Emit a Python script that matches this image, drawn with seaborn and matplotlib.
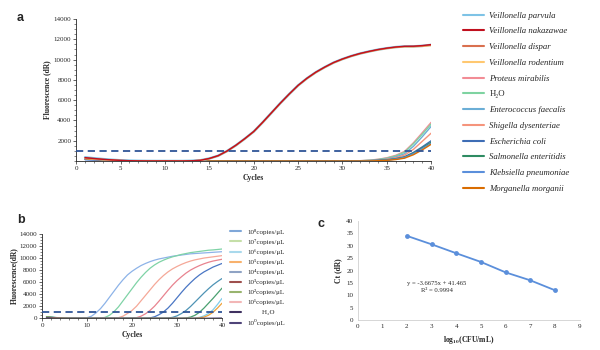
import matplotlib

matplotlib.use("Agg")
import matplotlib.pyplot as plt
import seaborn as sns
from matplotlib.lines import Line2D
from matplotlib.ticker import AutoMinorLocator, MultipleLocator

# ---------------- data ----------------
CYCLES = list(range(1, 41))
THRESHOLD = 1000

# panel a: specificity, fluorescence per cycle
v_parvula = [360, 270, 190, 120, 70, 35, 15, 5, 0, 0, 0, 0, 20, 70, 250, 520, 980, 1550, 2200, 2900,
             3800, 4750, 5700, 6600, 7450, 8150, 8750, 9250, 9700, 10050, 10350, 10600, 10800, 10980, 11120, 11230, 11300, 11300, 11350, 11450]
v_nakazawae = [330, 250, 170, 110, 60, 30, 10, 0, 0, 0, 0, 0, 20, 70, 250, 530, 990, 1560, 2210, 2910,
               3810, 4760, 5710, 6610, 7460, 8160, 8760, 9260, 9710, 10060, 10360, 10610, 10810, 10990, 11130, 11240, 11310, 11320, 11380, 11480]
v_dispar = [300, 220, 150, 90, 50, 20, 5, 0, 0, 0, 0, 0, 20, 70, 240, 510, 970, 1540, 2190, 2890,
            3790, 4740, 5690, 6590, 7440, 8140, 8740, 9240, 9690, 10040, 10340, 10590, 10790, 10970, 11110, 11220, 11290, 11290, 11340, 11430]
v_rodentium = [260, 200, 140, 80, 40, 15, 0, 0, 0, 0, 0, 0, 15, 60, 230, 500, 960, 1530, 2180, 2880,
               3780, 4730, 5680, 6580, 7430, 8120, 8720, 9220, 9670, 10020, 10320, 10570, 10770, 10950, 11080, 11190, 11260, 11260, 11300, 11380]
proteus = [310, 230, 160, 100, 55, 25, 10, 0, 0, 0, 0, 0, 0, 0, 0, 0, 0, 0, 0, 0,
           0, 0, 0, 0, 0, 0, 0, 0, 0, 0, 10, 30, 80, 170, 320, 560, 950, 1800, 2800, 3820]
water_a = [240, 180, 120, 80, 40, 20, 5, 0, 0, 0, 0, 0, 0, 0, 0, 0, 0, 0, 0, 0,
           0, 0, 0, 0, 0, 0, 0, 0, 0, 0, 10, 25, 70, 150, 280, 500, 870, 1700, 2650, 3650]
enterococcus = [200, 150, 100, 60, 30, 10, 0, 0, 0, 0, 0, 0, 0, 0, 0, 0, 0, 0, 0, 0,
                0, 0, 0, 0, 0, 0, 0, 0, 0, 0, 0, 20, 50, 110, 210, 400, 720, 1450, 2400, 3420]
shigella = [180, 130, 90, 50, 25, 10, 0, 0, 0, 0, 0, 0, 0, 0, 0, 0, 0, 0, 0, 0,
            0, 0, 0, 0, 0, 0, 0, 0, 0, 0, 0, 15, 40, 90, 170, 320, 580, 1150, 1950, 2750]
ecoli = [150, 110, 70, 40, 20, 5, 0, 0, 0, 0, 0, 0, 0, 0, 0, 0, 0, 0, 0, 0,
         0, 0, 0, 0, 0, 0, 0, 0, 0, 0, 0, 0, 25, 60, 120, 230, 420, 850, 1400, 2000]
salmonella = [270, 200, 130, 80, 40, 15, 0, 0, 0, 0, 0, 0, 0, 0, 0, 0, 0, 0, 0, 0,
              0, 0, 0, 0, 0, 0, 0, 0, 0, 0, 0, 0, 20, 50, 100, 200, 380, 780, 1300, 1850]
klebsiella = [130, 90, 60, 35, 15, 5, 0, 0, 0, 0, 0, 0, 0, 0, 0, 0, 0, 0, 0, 0,
              0, 0, 0, 0, 0, 0, 0, 0, 0, 0, 0, 0, 0, 40, 90, 180, 350, 720, 1220, 1750]
morganella = [220, 160, 110, 60, 30, 10, 0, 0, 0, 0, 0, 0, 0, 0, 0, 0, 0, 0, 0, 0,
              0, 0, 0, 0, 0, 0, 0, 0, 0, 0, 0, 0, 0, 30, 70, 140, 280, 620, 1100, 1650]

SPECIES = ["Veillonella parvula", "Veillonella nakazawae", "Veillonella dispar", "Veillonella rodentium",
           "Proteus mirabilis", "H₂O", "Enterococcus faecalis", "Shigella dysenteriae", "Escherichia coli",
           "Salmonella enteritidis", "Klebsiella pneumoniae", "Morganella morganii"]
SPECIES_VALUES = [v_parvula, v_nakazawae, v_dispar, v_rodentium, proteus, water_a, enterococcus,
                  shigella, ecoli, salmonella, klebsiella, morganella]
SPECIES_COLORS = ["#7EC3E6", "#C0101E", "#D9704F", "#FFC870", "#F28C95", "#7ED3A1", "#6BAED6",
                  "#F5947C", "#3E6DB5", "#2E8B62", "#5B8FDB", "#D96C00"]
SPECIES_ITALIC = [True, True, True, True, True, False, True, True, True, True, True, True]
SPECIES_Z = [4.0, 4.3, 4.2, 4.1, 3, 3, 3, 3, 3, 3, 3, 3]

# panel b: sensitivity, dilution series
d8 = [200, 150, 100, 60, 30, 10, 0, 0, 20, 100, 350, 900, 1600, 2500, 3500, 4500, 5500, 6400, 7200, 7800,
      8300, 8750, 9100, 9400, 9650, 9850, 10000, 10150, 10300, 10400, 10500, 10600, 10700, 10750, 10800, 10850, 10900, 10950, 11000, 11050]
d7 = [180, 130, 90, 50, 20, 5, 0, 0, 0, 0, 0, 0, 30, 150, 500, 1100, 1900, 2900, 3900, 4900,
      5900, 6800, 7600, 8300, 8850, 9300, 9650, 9950, 10200, 10400, 10600, 10750, 10900, 11000, 11100, 11200, 11300, 11350, 11420, 11500]
d6 = [160, 120, 80, 40, 20, 5, 0, 0, 0, 0, 0, 0, 0, 0, 0, 30, 100, 350, 800, 1300,
      2000, 2900, 3800, 4700, 5600, 6400, 7100, 7700, 8200, 8600, 8950, 9250, 9500, 9700, 9850, 10000, 10100, 10200, 10300, 10400]
d5 = [150, 110, 70, 40, 15, 0, 0, 0, 0, 0, 0, 0, 0, 0, 0, 0, 0, 0, 0, 30,
      100, 350, 750, 1300, 2000, 2850, 3750, 4650, 5500, 6250, 6900, 7500, 8000, 8400, 8750, 9050, 9300, 9500, 9650, 9800]
d4 = [140, 100, 60, 30, 10, 0, 0, 0, 0, 0, 0, 0, 0, 0, 0, 0, 0, 0, 0, 0,
      0, 0, 0, 60, 250, 600, 1050, 1700, 2500, 3400, 4300, 5150, 5900, 6600, 7200, 7700, 8100, 8500, 8800, 9100]
d3 = [250, 180, 120, 70, 30, 10, 0, 0, 0, 0, 0, 0, 0, 0, 0, 0, 0, 0, 0, 0,
      0, 0, 0, 0, 0, 0, 0, 50, 150, 400, 800, 1300, 1950, 2700, 3450, 4200, 4900, 5550, 6100, 6600]
d2 = [280, 200, 130, 80, 40, 10, 0, 0, 0, 0, 0, 0, 0, 0, 0, 0, 0, 0, 0, 0,
      0, 0, 0, 0, 0, 0, 0, 0, 0, 0, 0, 50, 200, 500, 1000, 1700, 2500, 3300, 4150, 5000]
d1 = [120, 90, 60, 30, 10, 0, 0, 0, 0, 0, 0, 0, 0, 0, 0, 0, 0, 0, 0, 0,
      0, 0, 0, 0, 0, 0, 0, 0, 0, 0, 0, 0, 0, 50, 150, 400, 800, 1400, 2300, 3300]
d_water = [170, 130, 80, 45, 20, 5, 0, 0, 0, 0, 0, 0, 0, 0, 0, 0, 0, 0, 0, 0,
           0, 0, 0, 0, 0, 0, 0, 0, 0, 0, 0, 0, 0, 0, 60, 200, 500, 1000, 1700, 2500]
d0 = [100, 70, 40, 20, 5, 0, 0, 0, 0, 0, 0, 0, 0, 0, 0, 0, 0, 0, 0, 0,
      0, 0, 0, 0, 0, 0, 0, 0, 0, 0, 0, 0, 0, 0, 0, 0, 10, 20, 30, 40]

DILUTION_VALUES = [d8, d7, d6, d5, d4, d3, d2, d1, d_water, d0]
DILUTION_CURVE_COLORS = ["#8DB3E8", "#7FD3A6", "#F5A898", "#E8838F", "#4A76C4", "#4E93B5",
                         "#4AA070", "#80CDEB", "#F0A23A", "#4B3F72"]
DILUTION_LABELS = ["10⁸copies/μL", "10⁷copies/μL", "10⁶copies/μL", "10⁵copies/μL",
                   "10⁴copies/μL", "10³copies/μL", "10²copies/μL", "10¹copies/μL",
                   "        H₂O", "10⁰copies/μL"]
DILUTION_LEGEND_COLORS = ["#7FA7D8", "#C5DFA8", "#A9D9EC", "#F8B16C", "#8FA3C4", "#9E4F4D",
                          "#98B46E", "#F2B6B6", "#3F3160", "#4F4479"]

# panel c: standard curve
LOG_CFU = [2, 3, 4, 5, 6, 7, 8]
CT = [34.0, 30.6, 27.0, 23.5, 19.3, 16.1, 12.1]

# ---------------- style ----------------
sns.set_theme(style="ticks")
plt.rcParams["font.family"] = ["Liberation Serif", "DejaVu Serif"]
plt.rcParams["mathtext.fontset"] = "stix"
plt.rcParams["axes.linewidth"] = 0.6
plt.rcParams["xtick.major.width"] = 0.5
plt.rcParams["ytick.major.width"] = 0.5
plt.rcParams["xtick.minor.width"] = 0.4
plt.rcParams["ytick.minor.width"] = 0.4

fig = plt.figure(figsize=(6, 3.5), dpi=100)
ax_a = fig.add_axes([0.127, 0.54, 0.5917, 0.4057])
ax_b = fig.add_axes([0.07, 0.0906, 0.30, 0.241])
ax_c = fig.add_axes([0.596, 0.0849, 0.37, 0.2837])

TICK_SIZE = 5


def style_amp_axis(ax, xmajor, xminor):
    ax.set_xlim(0, 40)
    ax.set_ylim(0, 14000)
    ax.xaxis.set_major_locator(MultipleLocator(xmajor))
    ax.xaxis.set_minor_locator(MultipleLocator(xminor))
    ax.yaxis.set_major_locator(MultipleLocator(2000))
    ax.yaxis.set_minor_locator(AutoMinorLocator(4))
    ax.tick_params(axis="both", which="major", labelsize=TICK_SIZE, length=2, pad=1.5)
    ax.tick_params(axis="both", which="minor", length=1.2)
    sns.despine(ax=ax)
    ax.axhline(THRESHOLD, color="#2F5597", lw=1.3, ls=(0, (4, 2.5)), zorder=5)


# ---------------- panel a ----------------
handles_a = []
for name, vals, color, z in zip(SPECIES, SPECIES_VALUES, SPECIES_COLORS, SPECIES_Z):
    sns.lineplot(x=CYCLES, y=vals, ax=ax_a, color=color,
                 lw=1.8 if name == "Veillonella parvula" else 1.0, zorder=z)
    handles_a.append(ax_a.lines[-1])
style_amp_axis(ax_a, 5, 1)
ax_a.set_yticks([2000, 4000, 6000, 8000, 10000, 12000, 14000])
ax_a.set_xlabel("Cycles", fontsize=5.5, fontweight="bold", labelpad=2)
ax_a.set_ylabel("Fluorescence (dR)", fontsize=5.5, fontweight="bold", labelpad=2)

leg_a = ax_a.legend(handles_a, SPECIES, loc="upper left", bbox_to_anchor=(0.772, 0.967),
                    bbox_transform=fig.transFigure, frameon=False, fontsize=6.3, borderpad=0,
                    borderaxespad=0, handlelength=2.4, handletextpad=0.6, labelspacing=0.87)
for text, italic in zip(leg_a.get_texts(), SPECIES_ITALIC):
    if italic:
        text.set_fontstyle("italic")
for line in leg_a.get_lines():
    line.set_linewidth(1.5)

# ---------------- panel b ----------------
for vals, color in zip(DILUTION_VALUES, DILUTION_CURVE_COLORS):
    sns.lineplot(x=CYCLES, y=vals, ax=ax_b, color=color, lw=0.9)
style_amp_axis(ax_b, 10, 2)
ax_b.set_xlabel("Cycles", fontsize=5.5, fontweight="bold", labelpad=2)
ax_b.set_ylabel("Fluorescence(dR)", fontsize=5.5, fontweight="bold", labelpad=1)

handles_b = [Line2D([], [], color=c, lw=1.5) for c in DILUTION_LEGEND_COLORS]
ax_b.legend(handles_b, DILUTION_LABELS, loc="upper left", bbox_to_anchor=(0.383, 0.346),
            bbox_transform=fig.transFigure, frameon=False, fontsize=5, borderpad=0, borderaxespad=0,
            handlelength=1.6, handletextpad=1.0, labelspacing=0.58)

# ---------------- panel c ----------------
sns.lineplot(x=LOG_CFU, y=CT, ax=ax_c, color="#5B8FDB", lw=1.3, marker="o", markersize=3.5,
             markeredgewidth=0)
ax_c.set_xlim(0, 9)
ax_c.set_ylim(0, 40)
ax_c.xaxis.set_major_locator(MultipleLocator(1))
ax_c.yaxis.set_major_locator(MultipleLocator(5))
ax_c.tick_params(axis="both", labelsize=TICK_SIZE, length=0, pad=3)
sns.despine(ax=ax_c)
for side in ["left", "bottom"]:
    ax_c.spines[side].set_color("#D0D0D0")
ax_c.set_xlabel(r"log$_{\mathbf{10}}$(CFU/mL)", fontsize=5.5, fontweight="bold", labelpad=3)
ax_c.set_ylabel("Ct (dR)", fontsize=5.5, fontweight="bold", labelpad=3)
ax_c.text(3.2, 14.9, "y = -3.6675x + 41.465", fontsize=4.8, ha="center", va="center")
ax_c.text(3.2, 11.9, "R² = 0.9994", fontsize=4.8, ha="center", va="center")

# panel letters
for letter, x, y in [("a", 0.028, 0.948), ("b", 0.028, 0.372), ("c", 0.53, 0.36)]:
    fig.text(x, y, letter, fontsize=9, fontweight="bold", family="Liberation Sans", va="center")

fig.savefig("out.png", dpi=100)
